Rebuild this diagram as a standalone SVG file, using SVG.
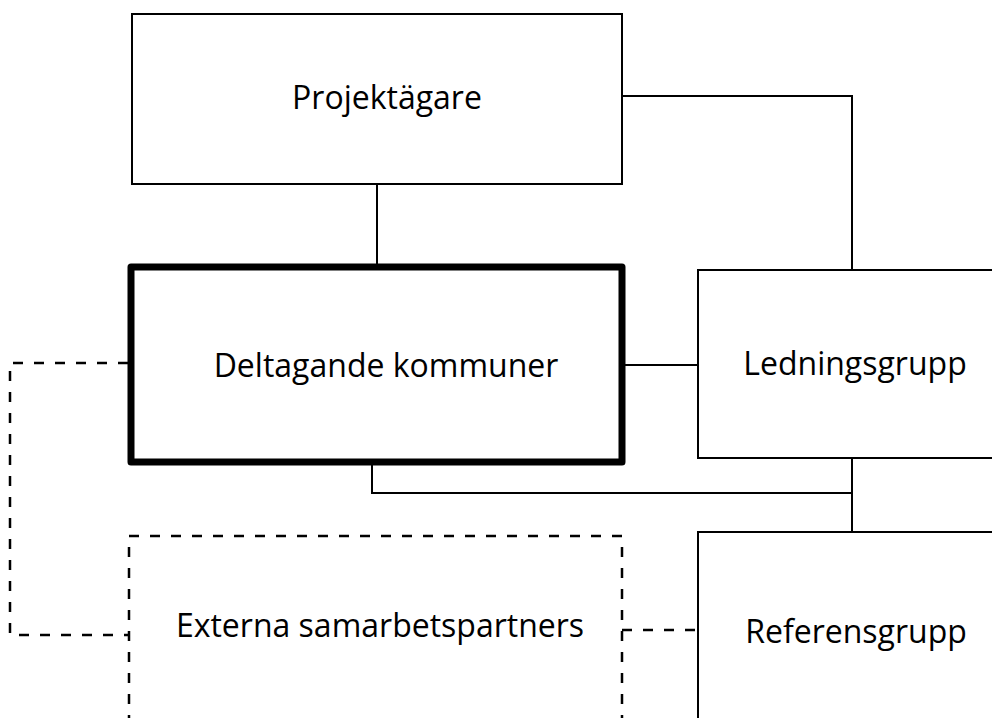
<svg xmlns="http://www.w3.org/2000/svg" width="992" height="718" viewBox="0 0 992 718">
<style>
.box{fill:#fff;stroke:#000;stroke-width:2}
.thick{fill:#fff;stroke:#000;stroke-width:7;stroke-linejoin:round}
.dbox{fill:none;stroke:#000;stroke-width:2.5;stroke-dasharray:10 11}
.line{fill:none;stroke:#000;stroke-width:2}
.dline{fill:none;stroke:#000;stroke-width:2.5;stroke-dasharray:10 11}
text{font-family:"Open Sans","Noto Sans","DejaVu Sans",sans-serif;font-size:32px;fill:#000;text-anchor:middle}
</style>
<rect width="992" height="718" fill="#fff"/>
<g id="connectors">
<polyline class="line" points="622,96 852,96 852,270"/>
<line class="line" x1="377" y1="184" x2="377" y2="267"/>
<line class="line" x1="625" y1="365" x2="698" y2="365"/>
<polyline class="line" points="372,464 372,493 852,493"/>
<line class="line" x1="852" y1="458" x2="852" y2="532"/>
<polyline class="dline" points="128,363 10,363 10,635 129,635"/>
<line class="dline" x1="622" y1="630" x2="698" y2="630"/>
</g>
<g id="projektagare">
<rect class="box" x="132" y="14" width="490" height="170"/>
<text x="387" y="109">Projektägare</text>
</g>
<g id="ledningsgrupp">
<rect class="box" x="698" y="270" width="310" height="188"/>
<text x="855" y="375">Ledningsgrupp</text>
</g>
<g id="deltagande">
<rect class="thick" x="131" y="267" width="491" height="195"/>
<text x="386" y="377">Deltagande kommuner</text>
</g>
<g id="referensgrupp">
<rect class="box" x="698" y="532" width="310" height="200"/>
<text x="856" y="643">Referensgrupp</text>
</g>
<g id="externa">
<rect class="dbox" x="129" y="536" width="493" height="200"/>
<text x="380" y="637">Externa samarbetspartners</text>
</g>
</svg>
